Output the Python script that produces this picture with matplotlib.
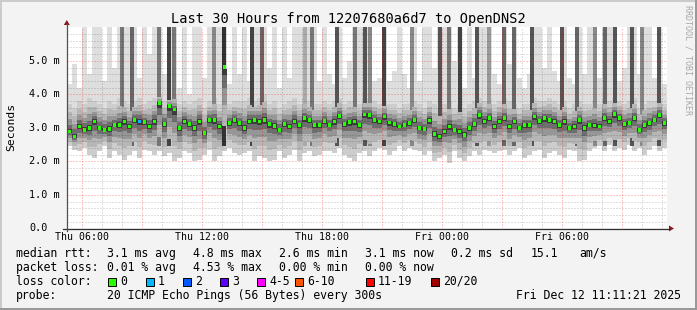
import matplotlib
matplotlib.use('Agg')
import matplotlib.pyplot as plt
from matplotlib.patches import Rectangle, Polygon
from matplotlib.lines import Line2D
import matplotlib.transforms as mtrans
import numpy as np

# ---------------- data (ms), one sample per 15 min starting Thu 05:15 ----------------
median_ms = [2.89, 2.74, 3.04, 2.94, 2.99, 3.19, 2.99, 2.94, 2.97, 3.09, 3.09, 3.19, 3.04, 3.24, 3.19, 3.17, 3.04, 3.19,
             3.75, 3.12, 3.65, 3.55, 2.99, 3.19, 3.11, 2.99, 3.19, 2.84, 3.24, 3.24, 3.04, 4.82, 3.14, 3.24, 3.14,
             2.99, 3.19, 3.24, 3.19, 3.24, 3.12, 3.06, 2.94, 3.12, 3.04, 3.19, 3.09, 3.29, 3.24, 3.09, 3.09, 3.21,
             3.09, 3.19, 3.35, 3.12, 3.17, 3.19, 3.09, 3.40, 3.39, 3.24, 3.19, 3.34, 3.16, 3.11, 3.04, 3.09, 3.14,
             3.24, 2.99, 2.97, 3.22, 2.81, 2.74, 2.89, 3.04, 2.94, 2.89, 2.79, 2.99, 3.12, 3.39, 3.19, 3.29, 3.04,
             3.19, 3.29, 3.04, 3.19, 2.99, 3.09, 3.09, 3.34, 3.21, 3.29, 3.24, 3.19, 3.09, 3.19, 2.99, 3.04, 3.24, 3.00,
             3.09, 3.07, 3.04, 3.29, 3.19, 3.41, 3.29, 3.11, 3.14, 3.29, 2.94, 3.09, 3.14, 3.24, 3.39, 3.14]
loss_pings = [0] * 14 + [1] + [0] * 105
min_ms = [2.45, 2.35, 2.3, 2.4, 2.2, 2.1, 2.3, 2.45, 2.1, 2.3, 2.2, 2.05, 2.2, 2.3, 2.1, 2.35, 2.3, 2.2,
          2.3, 2.15, 2.25, 2.0, 2.1, 2.3, 2.25, 2.0, 2.05, 2.2, 2.35, 2.0, 2.15, 2.3, 2.4, 2.25, 2.2,
          2.25, 2.3, 2.0, 2.15, 2.1, 2.0, 2.05, 2.3, 2.1, 2.2, 2.35, 2.0, 2.25, 2.3, 2.15, 2.2, 2.3,
          2.3, 2.25, 2.4, 2.2, 2.1, 2.0, 2.25, 2.3, 2.15, 2.3, 2.4, 2.35, 2.2, 2.3, 2.45, 2.3, 2.4,
          2.35, 2.3, 2.2, 2.3, 2.0, 2.1, 2.2, 1.95, 2.3, 2.1, 2.0, 2.15, 2.3, 2.2, 2.35, 2.3, 2.25,
          2.3, 2.35, 2.2, 2.3, 2.4, 2.1, 2.2, 2.3, 2.35, 2.1, 2.25, 2.3, 2.2, 2.1, 2.35, 2.3, 2.0, 2.05,
          2.3, 2.4, 2.45, 2.3, 2.5, 2.3, 2.4, 2.35, 2.5, 2.3, 2.4, 2.2, 2.35, 2.45, 2.3, 2.4]
bulk_top_ms = [3.7, 3.6, 3.8, 3.7, 3.9, 3.8, 3.7, 3.6, 3.8, 3.7, 3.9, 3.8, 3.7, 3.8, 3.9, 3.7, 3.8, 3.9,
               4.0, 3.8, 3.9, 4.0, 3.7, 3.8, 3.7, 3.8, 3.9, 3.6, 3.8, 3.9, 3.7, 4.1, 3.7, 3.8, 3.8,
               3.8, 3.9, 3.8, 3.9, 4.0, 3.7, 3.8, 3.6, 3.7, 3.8, 3.9, 3.7, 3.9, 3.8, 3.7, 3.7, 3.8,
               3.7, 3.8, 3.9, 3.7, 3.8, 3.8, 3.7, 3.9, 3.9, 3.8, 3.7, 3.8, 3.7, 3.7, 3.6, 3.7, 3.7,
               3.8, 3.7, 3.6, 3.8, 3.7, 3.6, 3.7, 3.8, 3.6, 3.7, 3.6, 3.7, 3.8, 3.9, 3.8, 3.9, 3.7,
               3.8, 3.9, 3.8, 3.7, 3.6, 3.7, 3.7, 3.9, 3.8, 3.8, 3.9, 3.8, 3.7, 3.8, 3.6, 3.7, 3.8, 3.7,
               3.7, 3.8, 3.7, 3.9, 3.8, 3.9, 3.8, 3.7, 3.8, 3.9, 3.6, 3.7, 3.8, 3.8, 3.9, 3.7]
max_ms = [4.3, 4.9, 4.2, 6, 4.6, 6, 6, 4.4, 6, 4.8, 6, 6, 6, 6, 4.5, 6, 5.2, 6,
          6, 4.6, 6, 6, 4.2, 6, 4.0, 6, 6, 4.5, 6, 6, 6, 6, 4.3, 6, 4.6,
          6, 4.4, 6, 6, 6, 4.8, 6, 4.2, 6, 4.5, 6, 6, 6, 6, 6, 4.4, 6,
          4.6, 4.3, 6, 4.5, 5.0, 6, 6, 6, 6, 4.4, 4.5, 6, 4.4, 4.7, 6, 4.6, 4.2,
          6, 4.4, 6, 6, 4.8, 6, 6, 6, 5.0, 6, 4.2, 6, 4.5, 6, 6, 6, 4.6,
          4.3, 6, 4.9, 6, 4.5, 4.2, 4.6, 6, 6, 4.8, 6, 4.7, 4.4, 6, 4.5, 4.3, 6, 4.6,
          6, 6, 4.5, 6, 6, 6, 4.4, 4.8, 6, 6, 4.6, 6, 6, 4.5, 6, 4.3]
# dark smoke columns reaching the top (hours after Thu 05:15) and their grey level
spike_hours = [2.75, 3.25, 4.6, 5.1, 5.35, 7.35, 7.85, 9.25, 9.75, 11.9, 12.25, 13.5, 14.4, 14.9, 15.15,
               15.85, 17.25, 18.65, 19.1, 19.65, 20.5, 21.1, 21.85, 22.35, 23.25, 24.75, 25.5, 26.4,
               26.9, 27.4, 28.25, 28.75, 29.6]
spike_grey = ['#777777', '#666666', '#777777', '#444444', '#777777', '#888888', '#333333', '#444444',
              '#666666', '#aaaaaa', '#777777', '#555555', '#777777', '#555555', '#888888', '#444444',
              '#888888', '#555555', '#777777', '#444444', '#555555', '#999999', '#666666', '#666666',
              '#555555', '#555555', '#666666', '#888888', '#666666', '#555555', '#555555', '#888888',
              '#555555']
y_tick_values = [0, 1, 2, 3, 4, 5]
y_tick_labels = ['0.0', '1.0 m', '2.0 m', '3.0 m', '4.0 m', '5.0 m']
x_tick_hours = [0.75, 6.75, 12.75, 18.75, 24.75]
x_tick_labels = ['Thu 06:00', 'Thu 12:00', 'Thu 18:00', 'Fri 00:00', 'Fri 06:00']
loss_labels = ['0', '1', '2', '3', '4-5', '6-10', '11-19', '20/20']
loss_colors = ['#26ff00', '#00b8ff', '#0059ff', '#5e00ff', '#ff00ff', '#ff5500', '#ff0000', '#a10000']

# ---------------- figure ----------------
W, H = 697, 310
fig = plt.figure(figsize=(W / 100, H / 100), dpi=100)
fig.patch.set_facecolor('#f3f3f3')
MONO = 'DejaVu Sans Mono'

def fx(px):
    return px / W

def fy(py):
    return 1 - py / H

X0, X1, Y0, Y1 = 67, 667, 228.3, 27.3
ax = fig.add_axes([fx(X0), fy(Y0), fx(X1) - fx(X0), fy(Y1) - fy(Y0)])
ax.set_xlim(0, 30)
ax.set_ylim(0, 6.0)
ax.set_facecolor('white')
for s in ax.spines.values():
    s.set_visible(False)
ax.set_xticks([])
ax.set_yticks([])

n = len(median_ms)
edges = np.arange(n + 1) * 0.25
centers = (np.arange(n) + 0.5) * 0.25
med = np.array(median_ms)
lo = np.array(min_ms)
qh = np.array(bulk_top_ms)
hi = np.array(max_ms)

ax.stairs(hi, edges, baseline=lo, fill=True, color='#dedede', lw=0, zorder=1)
ax.stairs(qh, edges, baseline=lo, fill=True, color='#cdcdcd', lw=0, zorder=1.1)
ax.bar(spike_hours, [6.0 - 2.45] * len(spike_hours), bottom=2.45, width=0.16,
       color=spike_grey, linewidth=0, zorder=1.2)
fracs = [0.7, 0.45, 0.25, 0.1]
shades = ['#b6b6b6', '#969696', '#6e6e6e', '#3c3c3c']
for k, (f, c) in enumerate(zip(fracs, shades)):
    ax.stairs(med + f * (qh - med), edges, baseline=med - f * (med - lo), fill=True,
              color=c, lw=0, zorder=1.3 + k * 0.1)

# translucent dotted grid on top
MINOR = (0, 0, 0, 0.25)
MAJOR = (1, 0, 0, 0.42)
for k in range(30):
    h = 0.75 + k
    ax.axvline(h, color=MAJOR if k % 3 == 0 else MINOR, lw=0.72, dashes=(1, 2), zorder=4)
for k in range(1, 30):
    v = k * 0.2
    ax.axhline(v, color=MAJOR if k % 5 == 0 else MINOR, lw=0.72, dashes=(1, 2), zorder=4)

# median markers coloured by loss
mcols = [loss_colors[l] for l in loss_pings]
ax.scatter(centers, med, marker='s', s=7.0, c=mcols, linewidths=0, zorder=6)

# axes lines and arrows
fig.add_artist(Line2D([fx(63), fx(669)], [fy(228.5), fy(228.5)], color='#303030', lw=0.9))
fig.add_artist(Line2D([fx(66.8), fx(66.8)], [fy(231), fy(24)], color='#505050', lw=0.9))
fig.add_artist(Polygon([[fx(669), fy(225.5)], [fx(674), fy(228.5)], [fx(669), fy(231.5)]],
                       closed=True, color='#8b1a1a', lw=0))
fig.add_artist(Polygon([[fx(63.8), fy(25)], [fx(66.8), fy(20)], [fx(69.8), fy(25)]],
                       closed=True, color='#8b1a1a', lw=0))

# tick labels
ytr = mtrans.blended_transform_factory(fig.transFigure, ax.transData)
for v, lab in zip(y_tick_values, y_tick_labels):
    ax.text(fx(29), v, lab, transform=ytr, ha='left', va='center', family=MONO,
            fontsize=7.3, color='black', clip_on=False)
xtr = mtrans.blended_transform_factory(ax.transData, fig.transFigure)
for h, lab in zip(x_tick_hours, x_tick_labels):
    ax.text(h, fy(237.5), lab, transform=xtr, ha='center', va='center', family=MONO,
            fontsize=7.1, color='black', clip_on=False)

# title, axis label, watermark
fig.text(fx(348), fy(19), 'Last 30 Hours from 12207680a6d7 to OpenDNS2', ha='center',
         va='center', family=MONO, fontsize=9.8, color='black')
fig.text(fx(11), fy(127), 'Seconds', rotation=90, ha='center', va='center', family=MONO,
         fontsize=8.2, color='black')
fig.text(fx(688), fy(60), 'RRDTOOL / TOBI OETIKER', rotation=270, ha='center', va='center',
         family=MONO, fontsize=6.0, color='#a8a8a8')

# legend rows
FS = 8.3
def t(xp, yp, s, ha='left'):
    fig.text(fx(xp), fy(yp), s, ha=ha, va='center', family=MONO, fontsize=FS, color='black')

t(16, 253.5, 'median rtt:')
for xp, s in zip([107, 193, 279, 365, 451, 531, 579],
                 ['3.1 ms avg', '4.8 ms max', '2.6 ms min', '3.1 ms now', '0.2 ms sd', '15.1', 'am/s']):
    t(xp, 253.5, s)
t(16, 267.5, 'packet loss:')
for xp, s in zip([107, 193, 279, 365], ['0.01 % avg', '4.53 % max', '0.00 % min', '0.00 % now']):
    t(xp, 267.5, s)
t(16, 281.5, 'loss color:')
sq_x = [108, 146, 183, 220, 257, 295, 366, 431]
for xp, lab, col in zip(sq_x, loss_labels, loss_colors):
    fig.add_artist(Rectangle((fx(xp), fy(286)), 8 / W, 8 / H, facecolor=col, edgecolor='black', lw=0.7))
    t(xp + 12, 281.5, lab)
t(16, 295.5, 'probe:')
t(107, 295.5, '20 ICMP Echo Pings (56 Bytes) every 300s')
t(680.5, 295.5, 'Fri Dec 12 11:11:21 2025', ha='right')

# frame (3D-ish border)
fig.add_artist(Rectangle((0, fy(2)), 1, 2 / H, facecolor='#cbcbcb', lw=0))
fig.add_artist(Rectangle((0, 0), 2 / W, 1, facecolor='#cbcbcb', lw=0))
fig.add_artist(Rectangle((0, 0), 1, 2 / H, facecolor='#999999', lw=0))
fig.add_artist(Rectangle((fx(695), 0), 2 / W, 1, facecolor='#999999', lw=0))

fig.savefig('out.png', dpi=100, facecolor=fig.get_facecolor())
